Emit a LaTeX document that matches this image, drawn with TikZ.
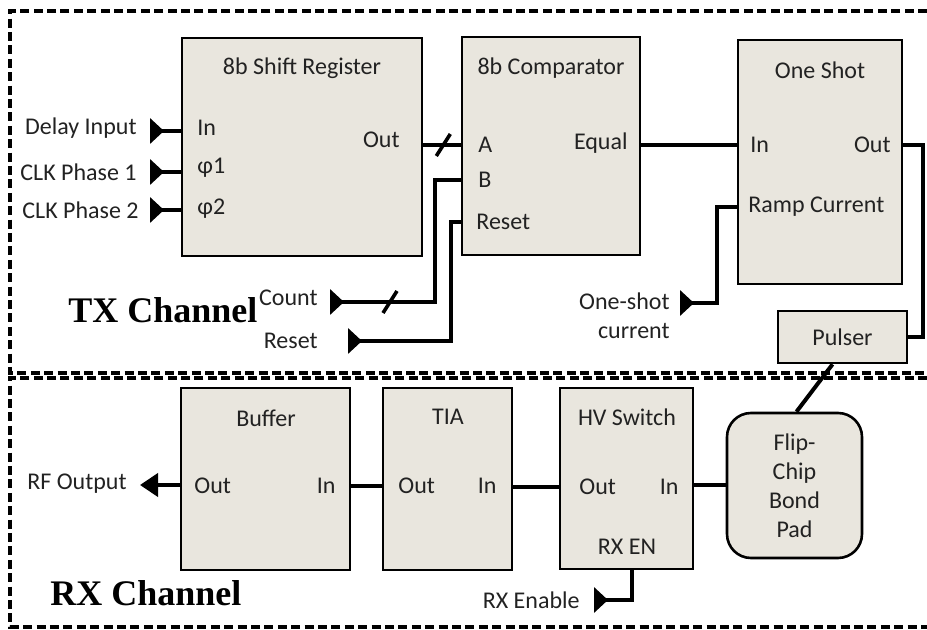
\documentclass[tikz,border=0pt]{standalone}
\usepackage{fontspec}
\setmainfont{Carlito}
\newfontfamily\chanfont{Liberation Serif}
\usepackage{tikz}
\usetikzlibrary{
  arrows.meta,
  calc,
  decorations.markings,
  positioning
}
\definecolor{blockFill}{HTML}{E9E6DE}
\definecolor{labelGray}{HTML}{222222}
\tikzset{
  blockBox/.style={
    draw,
    line width=1.3pt,
    fill=blockFill,
    inner sep=0pt
  },
  portLabel/.style={
    font=\fontsize{12}{14.5}\selectfont,
    text=labelGray,
    inner sep=1pt
  },
  wire/.style={line width=2pt},
  pinWire/.style={wire, {Triangle[reversed, length=7pt, width=12.5pt]}-},
  outWire/.style={wire, -{Triangle[length=9pt, width=11.5pt]}},
  busMark/.style={
    postaction={decorate},
    decoration={markings,
      mark=at position #1 with {\draw[line width=1.8pt, arrows=-] (-3.5pt,-5.5pt) -- (3.5pt,5.5pt);}}
  },
  channelBox/.style={line width=1.7pt, dash pattern=on 4.5pt off 2.2pt},
  channelLabel/.style={font=\chanfont\bfseries\fontsize{18}{20}\selectfont, inner sep=0pt}
}

\begin{document}
\begin{tikzpicture}[x=0.5pt,y=-0.5pt]
  \useasboundingbox (0,0) rectangle (927,630);

  % channel frames
  \draw[channelBox] (927,11) -- (10,11) -- (10,373) -- (927,373);
  \draw[channelBox] (927,378) -- (10,378) -- (10,627) -- (927,627);
  \node[channelLabel, anchor=base west] (txLabel) at (68,323) {TX Channel};
  \node[channelLabel, anchor=base west] (rxLabel) at (50,605) {RX Channel};

  % TX blocks
  \node[blockBox, minimum width=120pt, minimum height=109pt] (sr) at (302,147) {};
  \node[blockBox, minimum width=89pt, minimum height=109pt] (comp) at (551,146) {};
  \node[blockBox, minimum width=82pt, minimum height=122pt] (oneShot) at (820,162) {};
  \node[blockBox, portLabel, minimum width=64.5pt, minimum height=26pt, inner sep=0pt]
    (pulser) at (842.5,337) {Pulser};

  \node[portLabel] (srTitle) at (302,68) {8b Shift Register};
  \node[portLabel, anchor=west] (srIn) at (195,128) {In};
  \node[portLabel, anchor=west] (srPhiA) at (195,168) {φ1};
  \node[portLabel, anchor=west] (srPhiB) at (195,209) {φ2};
  \node[portLabel, anchor=east] (srOut) at (402,140) {Out};

  \node[portLabel] (compTitle) at (551,68) {8b Comparator};
  \node[portLabel, anchor=west] (compA) at (476,145) {A};
  \node[portLabel, anchor=west] (compB) at (476,180) {B};
  \node[portLabel, anchor=west] (compReset) at (474,222) {Reset};
  \node[portLabel, anchor=east] (compEqual) at (630,143) {Equal};

  \node[portLabel] (osTitle) at (820,70) {One Shot};
  \node[portLabel, anchor=west] (osIn) at (748,145) {In};
  \node[portLabel, anchor=east] (osOut) at (893,145) {Out};
  \node[portLabel, anchor=west] (osRamp) at (746,207) {Ramp Current};

  % TX pins
  \node[portLabel, anchor=east] (delayTxt) at (139,128) {Delay Input};
  \node[portLabel, anchor=east] (clkATxt) at (139,172) {CLK Phase 1};
  \node[portLabel, anchor=east] (clkBTxt) at (141,210) {CLK Phase 2};
  \node[portLabel, anchor=east] (countTxt) at (320,298) {Count};
  \node[portLabel, anchor=east] (resetTxt) at (320,341) {Reset};
  \node[portLabel, anchor=east, align=right] (shotTxt) at (672,316) {One-shot\\current};
  \coordinate (pinDelay) at (150,131);
  \coordinate (pinClkA) at (150,172);
  \coordinate (pinClkB) at (150,210);
  \coordinate (pinCount) at (330,302);
  \coordinate (pinReset) at (348,341);
  \coordinate (pinShot) at (680,303);

  \draw[pinWire] (pinDelay) -- (pinDelay -| sr.west);
  \draw[pinWire] (pinClkA) -- (pinClkA -| sr.west);
  \draw[pinWire] (pinClkB) -- (pinClkB -| sr.west);
  \draw[wire, busMark=10pt] (compA.west -| sr.east) -- (compA.west -| comp.west);
  \draw[pinWire, busMark=30pt] (pinCount) -- ++(105,0) |- (compB.west -| comp.west);
  \draw[pinWire] (pinReset) -- ++(103,0) |- (compReset.west -| comp.west);
  \draw[wire] (osIn.west -| comp.east) -- (osIn.west -| oneShot.west);
  \draw[pinWire] (pinShot) -- ++(37,0) |- (osRamp.west -| oneShot.west);
  \draw[wire] (osOut.east -| oneShot.east) -- ++(20,0) |- (pulser.east);

  % RX blocks
  \node[blockBox, minimum width=84.5pt, minimum height=91pt] (buffer) at (265.5,479) {};
  \node[blockBox, minimum width=64.5pt, minimum height=91pt] (tia) at (447.5,479) {};
  \node[blockBox, minimum width=66.5pt, minimum height=90.5pt] (hvSw) at (626.5,478.5) {};
  \node[blockBox, portLabel, rounded corners=12pt, align=center,
    minimum width=67.5pt, minimum height=72.5pt, inner sep=0pt]
    (pad) at (794.5,485.5) {Flip-\\Chip\\Bond\\Pad};

  \node[portLabel] (bufTitle) at (266,418) {Buffer};
  \node[portLabel, anchor=west] (bufOut) at (192,486) {Out};
  \node[portLabel, anchor=east] (bufIn) at (338,486) {In};
  \node[portLabel] (tiaTitle) at (448,417) {TIA};
  \node[portLabel, anchor=west] (tiaOut) at (396,486) {Out};
  \node[portLabel, anchor=east] (tiaIn) at (499,486) {In};
  \node[portLabel] (hvTitle) at (627,417) {HV Switch};
  \node[portLabel, anchor=west] (hvOut) at (577,487) {Out};
  \node[portLabel, anchor=east] (hvIn) at (681,487) {In};
  \node[portLabel] (hvEn) at (627,547) {RX EN};

  % RX pins
  \node[portLabel, anchor=east] (rfTxt) at (129,484) {RF Output};
  \node[portLabel, anchor=east] (rxEnTxt) at (582,600) {RX Enable};
  \coordinate (rfTip) at (140,485);
  \coordinate (pinRxEn) at (594,600);

  \draw[outWire] (rfTip -| buffer.west) -- (rfTip);
  \draw[wire] (tiaOut.west -| buffer.east) -- (tiaOut.west -| tia.west);
  \draw[wire] (hvOut.west -| tia.east) -- (hvOut.west -| hvSw.west);
  \draw[wire] (pad.west) -- (pad.west -| hvSw.east);
  \draw[wire] ($(pulser.south)+(-10,0)$) -- ($(pad.north)+(2,0)$);
  \draw[pinWire] (pinRxEn) -| ($(hvSw.south)+(5,0)$);
\end{tikzpicture}
\end{document}
